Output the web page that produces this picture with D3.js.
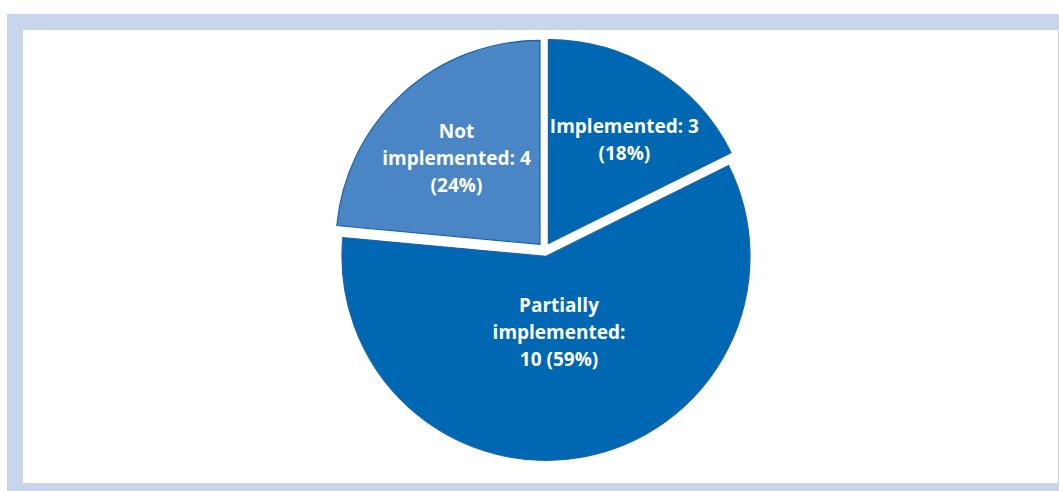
<!DOCTYPE html>
<html>
<head>
<meta charset="utf-8">
<script src="https://cdn.jsdelivr.net/npm/d3@7"></script>
<style>
  html, body { margin: 0; padding: 0; background: #ffffff; }
  svg { display: block; }
</style>
</head>
<body>
<svg id="chart" width="1059" height="491"></svg>
<script>
const categories = ["Implemented", "Partially implemented", "Not implemented"];
const values = [3, 10, 4];
const percents = [18, 59, 24];
const labelLines = [
  ["Implemented: 3", "(18%)"],
  ["Partially", "implemented:", "10 (59%)"],
  ["Not", "implemented: 4", "(24%)"]
];
const colors = ["#0068b3", "#0068b3", "#4a86c5"];

const W = 1059, H = 491;
const svg = d3.select("#chart");

// frame
svg.append("rect")
  .attr("x", 15).attr("y", 22)
  .attr("width", 1051).attr("height", 469)
  .attr("fill", "#ffffff")
  .attr("stroke", "#c9d5eb")
  .attr("stroke-width", 16);

const cx = 544.7, cy = 249.5, R = 204, explode = 7;

const pie = d3.pie().sort(null).value(d => d.value).startAngle(0).endAngle(2 * Math.PI);
const data = categories.map((c, i) => ({ cat: c, value: values[i], pct: percents[i], lines: labelLines[i], color: colors[i] }));
const arcs = pie(data);
const arc = d3.arc().innerRadius(0).outerRadius(R);

const g = svg.append("g").attr("transform", `translate(${cx},${cy})`);

const slices = g.selectAll("g.slice").data(arcs).enter().append("g")
  .attr("class", "slice")
  .attr("transform", d => {
    const mid = (d.startAngle + d.endAngle) / 2;
    return `translate(${explode * Math.sin(mid)},${-explode * Math.cos(mid)})`;
  });

slices.append("path")
  .attr("d", arc)
  .attr("fill", d => d.data.color)
  .attr("stroke", "#1a63ac")
  .attr("stroke-width", 1.2);

const lineH = 27;
slices.each(function(d) {
  const a = d.endAngle - d.startAngle;
  const mid = (d.startAngle + d.endAngle) / 2;
  const dist = 4 * R * Math.sin(a / 2) / (3 * a);
  let lx = dist * Math.sin(mid);
  const ly = -dist * Math.cos(mid) + 6;
  const n = d.data.lines.length;
  const t = d3.select(this).append("text")
    .attr("text-anchor", "middle")
    .attr("fill", "#ffffff")
    .attr("font-family", "'Open Sans', sans-serif")
    .attr("font-weight", "bold")
    .attr("font-size", "19px");
  const spans = d.data.lines.map((ln, i) =>
    t.append("tspan")
      .attr("x", lx)
      .attr("y", ly + (i - (n - 1) / 2) * lineH + 6.7)
      .text(ln));
  // keep label inside the slice where it touches the vertical 12 o'clock edge
  const bb = t.node().getBBox();
  let shift = 0;
  if (d.startAngle === 0 && bb.x < 1.5) shift = 1.5 - bb.x;
  if (Math.abs(d.endAngle - 2 * Math.PI) < 1e-9 && bb.x + bb.width > -8) shift = -8 - (bb.x + bb.width);
  if (shift) spans.forEach(s => s.attr("x", lx + shift));
});
</script>
</body>
</html>
